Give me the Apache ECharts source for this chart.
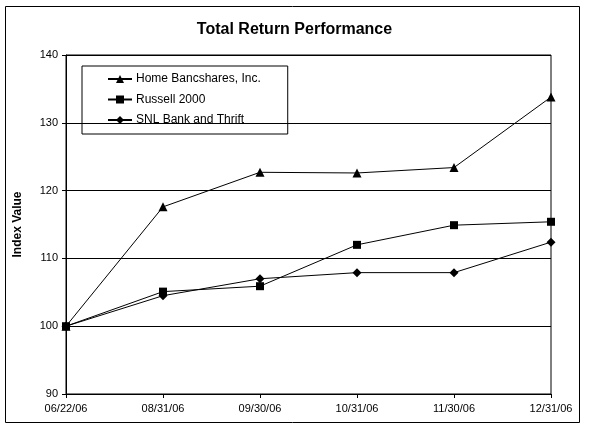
<!DOCTYPE html>
<html><head><meta charset="utf-8">
<script src="https://cdn.jsdelivr.net/npm/echarts@6/dist/echarts.min.js"></script>
<style>html,body{margin:0;padding:0;background:#fff}#c{width:589px;height:428px}</style>
</head><body><div id="c"></div>
<script>
const categories = ['06/22/06','08/31/06','09/30/06','10/31/06','11/30/06','12/31/06'];
const homeBancshares = [100, 117.6, 122.7, 122.6, 123.4, 133.8];
const russell2000 = [100, 105.1, 105.9, 112.0, 114.9, 115.4];
const snlBankThrift = [100, 104.5, 107.0, 107.9, 107.9, 112.4];
const seriesNames = ['Home Bancshares, Inc.', 'Russell 2000', 'SNL Bank and Thrift'];
const yTicks = {min: 90, max: 140, interval: 10};

const font = 'Arial, "Liberation Sans", sans-serif';
const chart = echarts.init(document.getElementById('c'), null, {renderer: 'canvas'});
function mk(name, data, symbol, size) {
  return {
    name, type: 'line', data, symbol, symbolSize: size, showSymbol: true,
    lineStyle: {color: '#000', width: 1}, itemStyle: {color: '#000'},
    emphasis: {disabled: true}, animation: false
  };
}
chart.setOption({
  animation: false,
  backgroundColor: '#fff',
  title: {
    text: 'Total Return Performance', left: 'center', top: 17,
    textStyle: {fontFamily: font, fontWeight: 'bold', fontSize: 16, color: '#000'}
  },
  graphic: [{
    type: 'rect', shape: {x: 5.5, y: 6.5, width: 574, height: 416},
    style: {fill: 'none', stroke: '#000', lineWidth: 1}, z: -1
  }],
  legend: {
    orient: 'vertical', left: 82, top: 66,
    borderColor: '#000', borderWidth: 1, borderRadius: 0,
    padding: [7, 27, 8, 25], itemGap: 8.5, itemWidth: 24, itemHeight: 10,
    textStyle: {fontFamily: font, fontSize: 12, color: '#000', padding: [0, 0, 0, -1]},
    data: seriesNames
  },
  grid: {left: 66, right: 38, top: 55, bottom: 34, show: true, borderColor: '#000', borderWidth: 1, containLabel: false},
  xAxis: {
    type: 'category', data: categories, boundaryGap: false,
    axisLine: {lineStyle: {color: '#000', width: 1}},
    axisTick: {show: true, length: 4, alignWithLabel: true, lineStyle: {color: '#000'}},
    axisLabel: {fontFamily: font, fontSize: 11, color: '#000', margin: 9},
    splitLine: {show: false}
  },
  yAxis: {
    type: 'value', min: yTicks.min, max: yTicks.max, interval: yTicks.interval,
    name: 'Index Value', nameLocation: 'middle', nameGap: 42, nameRotate: 90,
    nameTextStyle: {fontFamily: font, fontWeight: 'bold', fontSize: 12, color: '#000'},
    axisLine: {show: true, lineStyle: {color: '#000', width: 1}},
    axisTick: {show: true, length: 4, lineStyle: {color: '#000'}},
    axisLabel: {fontFamily: font, fontSize: 11, color: '#000', margin: 8},
    splitLine: {show: true, lineStyle: {color: '#000', width: 1}}
  },
  series: [
    mk(seriesNames[0], homeBancshares, 'triangle', 9),
    mk(seriesNames[1], russell2000, 'rect', 8),
    mk(seriesNames[2], snlBankThrift, 'diamond', 9)
  ]
});
</script></body></html>
